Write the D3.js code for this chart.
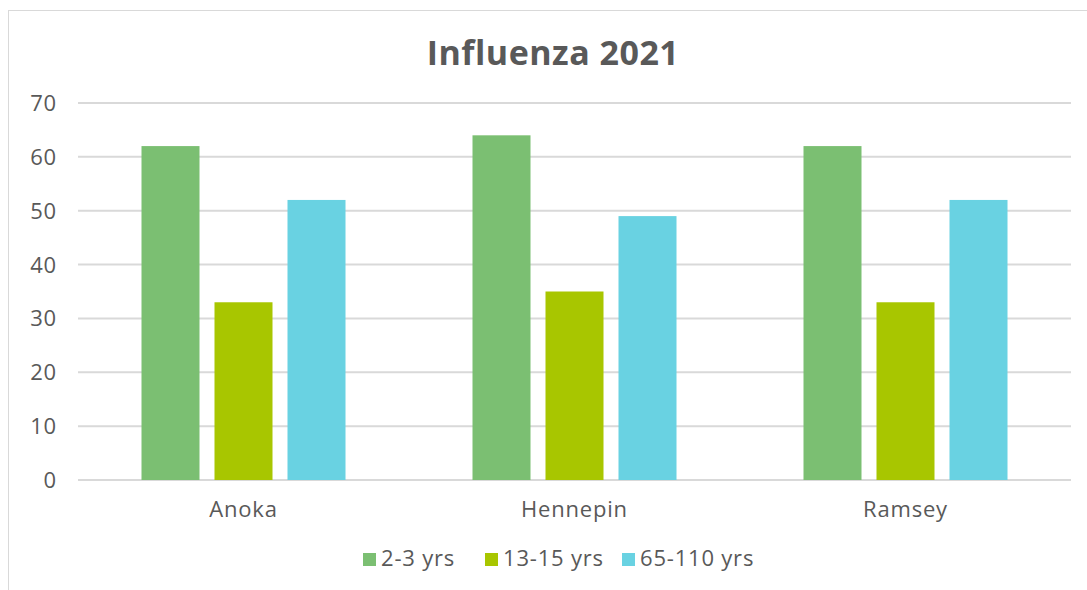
<html>
<head>
  <script src="https://d3js.org/d3.v7.min.js"></script>
  <style>
    body { margin: 0; background: #fff; overflow: hidden; }
    text { font-family: "Open Sans", Lato, sans-serif; fill: #595959; }
  </style>
</head>
<body>
  <svg id="chart"></svg>
  <script>
    const categories = ['Anoka', 'Hennepin', 'Ramsey'];
    const seriesNames = ['2-3 yrs', '13-15 yrs', '65-110 yrs'];
    const kids = [62, 64, 62];
    const teens = [33, 35, 33];
    const seniors = [52, 49, 52];
    const yTicks = [0, 10, 20, 30, 40, 50, 60, 70];
    const colors = ['#7BBF72', '#A8C600', '#69D2E2'];

    const series = [kids, teens, seniors];
    const width = 1087, height = 590;
    const plotLeft = 78, plotRight = 1071, plotTop = 103, plotBottom = 480;

    const svg = d3.select('#chart').attr('width', width).attr('height', height);

    // outer frame
    svg.append('rect')
      .attr('x', 8.5).attr('y', 10.5)
      .attr('width', 1090).attr('height', 600)
      .attr('fill', 'none').attr('stroke', '#d9d9d9');

    svg.append('text')
      .attr('x', 553).attr('y', 65)
      .attr('text-anchor', 'middle')
      .style('font-size', '34px').style('font-weight', 'bold')
      .style('letter-spacing', '0.5px')
      .text('Influenza 2021');

    const x0 = d3.scaleBand().domain(categories).range([plotLeft, plotRight]).padding(0);
    const x1 = d3.scaleBand().domain(seriesNames)
      .range([63.5, x0.bandwidth() - 63.5]).paddingInner(15 / 73).paddingOuter(0);
    const y = d3.scaleLinear().domain([0, 70]).range([plotBottom, plotTop]);

    // gridlines
    svg.append('g').selectAll('line').data(yTicks).enter().append('line')
      .attr('x1', plotLeft).attr('x2', plotRight)
      .attr('y1', d => y(d)).attr('y2', d => y(d))
      .attr('stroke', '#d9d9d9').attr('stroke-width', 2);

    svg.append('g').selectAll('text').data(yTicks).enter().append('text')
      .attr('x', 57).attr('y', d => y(d) + 8)
      .attr('text-anchor', 'end')
      .style('font-size', '22px').style('letter-spacing', '0.8px')
      .text(d => d);

    const groups = svg.append('g').selectAll('g').data(categories).enter().append('g')
      .attr('transform', d => `translate(${x0(d)},0)`);

    groups.selectAll('rect')
      .data((c, ci) => seriesNames.map((s, si) => ({ s, v: series[si][ci], i: si })))
      .enter().append('rect')
      .attr('x', d => x1(d.s))
      .attr('width', x1.bandwidth())
      .attr('y', d => y(d.v))
      .attr('height', d => y(0) - y(d.v))
      .attr('fill', d => colors[d.i]);

    svg.append('g').selectAll('text').data(categories).enter().append('text')
      .attr('x', d => x0(d) + x0.bandwidth() / 2)
      .attr('y', 517)
      .attr('text-anchor', 'middle')
      .style('font-size', '22px').style('letter-spacing', '0.8px')
      .text(d => d);

    // legend
    const legendX = [363, 485, 622];
    const legend = svg.append('g').selectAll('g').data(seriesNames).enter().append('g')
      .attr('transform', (d, i) => `translate(${legendX[i]},553)`);
    legend.append('rect').attr('width', 13).attr('height', 13).attr('fill', (d, i) => colors[i]);
    legend.append('text').attr('x', 18).attr('y', 13)
      .style('font-size', '22px').style('letter-spacing', '0.8px')
      .text(d => d);
  </script>
</body>
</html>
